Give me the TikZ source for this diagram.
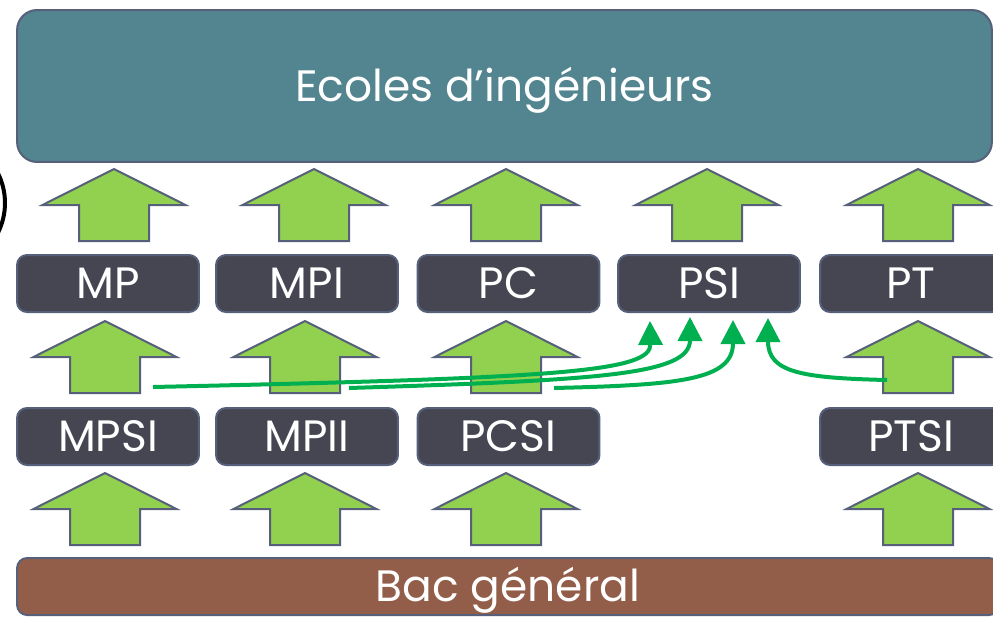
\documentclass[tikz,border=0pt]{standalone}
\usepackage{fontspec}
\setmainfont{Poppins}
\usetikzlibrary{arrows.meta}

\definecolor{bleuecole}{HTML}{52858F}
\definecolor{grisfil}{HTML}{464653}
\definecolor{bordure}{HTML}{56607A}
\definecolor{vertfl}{HTML}{92D050}
\definecolor{vertcb}{HTML}{00B050}
\definecolor{brunbac}{HTML}{935E49}

\tikzset{
  boite/.style={draw=bordure, line width=0.04cm, rounded corners=0.2cm, text=white,
    font=\fontsize{25}{28}\selectfont, inner sep=0pt, text height=17.4pt, text depth=0pt},
  filiere/.style={boite, fill=grisfil, minimum width=3.64cm, minimum height=1.14cm},
  fleche/.style={draw=bordure, line width=0.04cm, fill=vertfl},
  passage/.style={draw=vertcb, line width=0.08cm, -{Triangle[length=0.48cm,width=0.48cm]}},
}

% flèche verticale (pointe en #1,#2)
\newcommand{\flechehaut}[2]{%
  \draw[fleche] (#1,#2) -- ++(71.5,36) -- ++(-36.5,0) -- ++(0,36) -- ++(-70,0)
    -- ++(0,-36) -- ++(-36.5,0) -- cycle;}

\begin{document}
\begin{tikzpicture}[x=0.02cm,y=-0.02cm]
        \useasboundingbox (0,0) rectangle (993,619);
        \clip (0,0) rectangle (993,619);

        % Cercle coupé à gauche
        \draw[line width=0.08cm] (-61,203) circle (1.32cm);

        % Ecoles et bac
        \node[boite, fill=bleuecole, minimum width=19.5cm, minimum height=3.04cm,
          rounded corners=0.4cm] (ecoles) at (504.5,86) {Ecoles d’ingénieurs};
        \node[boite, fill=brunbac, minimum width=19.64cm, minimum height=1.14cm] (bac) at (508,586.5) {Bac général};

        % Deuxième année
        \node[filiere] (mp) at (108,283.5) {MP};
        \node[filiere] (mpi) at (307,283.5) {MPI};
        \node[filiere] (pc) at (508.5,283.5) {PC};
        \node[filiere] (psi) at (709,283.5) {PSI};
        \node[filiere] (pt) at (911,283.5) {PT};

        % Première année
        \node[filiere] (mpsi) at (108,436.5) {MPSI};
        \node[filiere] (mpii) at (307,436.5) {MPII};
        \node[filiere] (pcsi) at (508.5,436.5) {PCSI};
        \node[filiere] (ptsi) at (911,436.5) {PTSI};

        % Flèches vertes
        \flechehaut{114}{169} \flechehaut{314}{169} \flechehaut{506}{169}
        \flechehaut{707}{169} \flechehaut{918}{169}
        \flechehaut{105}{321} \flechehaut{305}{321} \flechehaut{506}{321}
        \flechehaut{918}{321}
        \flechehaut{105}{473} \flechehaut{305}{473} \flechehaut{506}{473}
        \flechehaut{918}{473}

        % Passages vers PSI
        \coordinate (d1) at (153,387);
        \coordinate (d2) at (349,388);
        \coordinate (d3) at (554,388);
        \coordinate (d4) at (887,380);
        \coordinate (a1) at (650,321);
        \coordinate (a2) at (690,317);
        \coordinate (a3) at (733,320);
        \coordinate (a4) at (768,318);
        \draw[passage] (d1) .. controls (560,378) and (651,372) .. (a1);
        \draw[passage] (d2) .. controls (600,380) and (690,375) .. (a2);
        \draw[passage] (d3) .. controls (680,385) and (733,380) .. (a3);
        \draw[passage] (d4) .. controls (800,378) and (768,372) .. (a4);
\end{tikzpicture}
\end{document}
